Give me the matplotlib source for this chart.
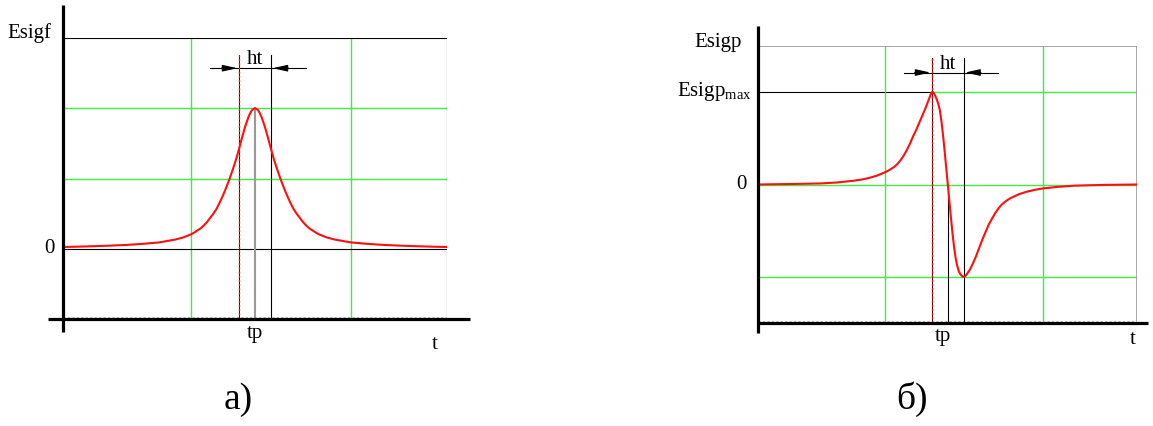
import matplotlib
matplotlib.use("Agg")
import matplotlib.pyplot as plt

# ---------------- data ----------------
# panel a): Esigf(t) pulse
t_f = [0.0, 0.5, 1.0, 1.5, 2.0, 2.5, 3.0, 3.25, 3.5, 3.75, 4.0, 4.1, 4.2, 4.3, 4.4,
       4.5, 4.6, 4.7, 4.8, 4.9, 5.0, 5.1, 5.2, 5.3, 5.4, 5.5, 5.6, 5.7, 5.8, 5.85,
       5.9, 5.95, 6.0, 6.05, 6.1, 6.15, 6.2, 6.3, 6.4, 6.5, 6.6, 6.7, 6.8, 6.9, 7.0,
       7.1, 7.2, 7.3, 7.4, 7.5, 7.6, 7.7, 7.8, 7.9, 8.0, 8.25, 8.5, 8.75, 9.0, 9.5,
       10.0, 10.5, 11.0, 11.5, 12.0]
esigf = [0.025, 0.03, 0.037, 0.045, 0.055, 0.07, 0.09, 0.11, 0.13, 0.16, 0.205,
         0.23, 0.26, 0.29, 0.33, 0.38, 0.44, 0.50, 0.57, 0.66, 0.76, 0.87, 0.99, 1.12,
         1.26, 1.42, 1.59, 1.75, 1.88, 1.93, 1.97, 1.99, 2.00, 1.99, 1.97, 1.93, 1.88,
         1.75, 1.59, 1.42, 1.26, 1.12, 0.99, 0.87, 0.76, 0.66, 0.57, 0.50, 0.44, 0.38,
         0.33, 0.29, 0.26, 0.23, 0.205, 0.16, 0.13, 0.11, 0.09, 0.07, 0.055, 0.045,
         0.037, 0.03, 0.025]

# panel б): Esigp(t)
t_p = [0.0, 0.5, 1.0, 1.5, 2.0, 2.5, 3.0, 3.25, 3.5, 3.75, 4.0, 4.1, 4.2, 4.3, 4.4,
       4.5, 4.6, 4.7, 4.8, 4.9, 5.0, 5.1, 5.2, 5.3, 5.35, 5.4, 5.45, 5.5, 5.53, 5.56,
       5.6, 5.65, 5.7, 5.75, 5.8, 5.85, 5.9, 5.95, 6.0, 6.05, 6.1, 6.15, 6.2, 6.25,
       6.3, 6.35, 6.4, 6.45, 6.5, 6.55, 6.6, 6.7, 6.8, 6.9, 7.0, 7.1, 7.2, 7.3, 7.4,
       7.5, 7.6, 7.7, 7.8, 7.9, 8.0, 8.25, 8.5, 8.75, 9.0, 9.5, 10.0, 10.5, 11.0,
       11.5, 12.0]
esigp = [0.0, 0.003, 0.005, 0.008, 0.012, 0.022, 0.04, 0.052, 0.07, 0.095, 0.13,
         0.147, 0.167, 0.19, 0.22, 0.26, 0.31, 0.37, 0.44, 0.52, 0.59, 0.67, 0.75,
         0.83, 0.875, 0.92, 0.965, 1.0, 1.0, 0.985, 0.96, 0.92, 0.87, 0.80, 0.68, 0.53,
         0.36, 0.18, 0.0, -0.18, -0.36, -0.53, -0.68, -0.80, -0.88, -0.94, -0.97,
         -0.99, -1.0, -0.99, -0.97, -0.92, -0.85, -0.77, -0.68, -0.59, -0.51, -0.43,
         -0.37, -0.31, -0.26, -0.22, -0.19, -0.165, -0.145, -0.105, -0.078, -0.058,
         -0.043, -0.025, -0.013, -0.008, -0.004, -0.002, 0.0]

grid_t = [4.0, 9.0]          # green vertical grid lines
t_start = 5.5                # left edge of ht (dashed red line)
t_peak = 6.0                 # tp
t_end = 6.5                  # right edge of ht
esigf_grid = [1.0, 2.0]
esigp_grid = [1.0, 0.0, -1.0]

# ---------------- figure ----------------
W, H = 1153, 426
fig = plt.figure(figsize=(W / 100, H / 100), dpi=100)
fig.patch.set_facecolor("white")

SERIF = ["Liberation Serif", "DejaVu Serif"]
plt.rcParams["mathtext.fontset"] = "custom"
plt.rcParams["mathtext.rm"] = "Liberation Serif"

GREEN = "#3fec3f"
RED = "#ff1010"
THIN = 0.8
FS = 15


def ax_at(px0, px1, py0, py1):
    ax = fig.add_axes([px0 / W, 1 - py1 / H, (px1 - px0) / W, (py1 - py0) / H])
    ax.set_axis_off()
    return ax


def ht_marker(ax, y, xl, xr, span_l, span_r, ytxt):
    ax.plot([span_l, span_r], [y, y], color="black", lw=THIN, clip_on=False)
    ax.annotate("", xy=(xl - 0.05, y), xytext=(xl - 0.55, y),
                arrowprops=dict(arrowstyle="-|>,head_length=0.9,head_width=0.2",
                                color="black", lw=THIN, shrinkA=0, shrinkB=0),
                annotation_clip=False)
    ax.annotate("", xy=(xr + 0.05, y), xytext=(xr + 0.55, y),
                arrowprops=dict(arrowstyle="-|>,head_length=0.9,head_width=0.2",
                                color="black", lw=THIN, shrinkA=0, shrinkB=0),
                annotation_clip=False)
    ax.text((xl + xr) / 2, ytxt, "ht", family=SERIF, fontsize=FS,
            ha="center", va="baseline")


# ======================= panel a) =======================
axL = ax_at(63, 447, 38, 319)
axL.set_xlim(0, 12)
axL.set_ylim(-1, 3)

for yv in esigf_grid:
    axL.axhline(yv, color=GREEN, lw=1.0, zorder=1)
for tv in grid_t:
    axL.axvline(tv, color=GREEN, lw=1.0, zorder=1)
axL.axhline(3, color="black", lw=THIN, zorder=1)
axL.axhline(0, color="black", lw=THIN, zorder=1)
axL.axvline(12, color="black", lw=THIN, zorder=1)
axL.axhline(-0.975, color="#bbbbbb", lw=0.8, ls=(0, (2, 2)), zorder=1)

# vertical markers
axL.plot([t_start, t_start], [-1, 2.76], color="#3a0000", lw=0.7, zorder=3)
axL.plot([t_start, t_start], [-1, 2.76], color=RED, lw=1.0, ls=(0, (1.5, 1.5)), zorder=3)
axL.plot([t_peak, t_peak], [-1, 2.0], color="#999999", lw=1.5, zorder=3)
axL.plot([t_end, t_end], [-1, 2.76], color="black", lw=THIN, zorder=3)

axL.plot(t_f, esigf, color=RED, lw=1.5, zorder=4)

# thick axes
axL.plot([0, 0], [-1.19, 3.47], color="black", lw=2.3, clip_on=False, zorder=5,
         solid_capstyle="butt")
axL.plot([-0.47, 12.72], [-1, -1], color="black", lw=2.3, clip_on=False, zorder=5,
         solid_capstyle="butt")

ht_marker(axL, 2.57, t_start, t_end, 4.59, 7.58, 2.63)

axL.text(-1.06, 3.07, "Esigf", family=SERIF, fontsize=FS, ha="center", va="center")
axL.text(-0.42, 0.0, "0", family=SERIF, fontsize=FS, ha="center", va="center")
axL.text(t_peak, -1.2, "tp", family=SERIF, fontsize=FS, ha="center", va="center")
axL.text(11.63, -1.37, "t", family=SERIF, fontsize=FS, ha="center", va="center")
axL.text(5.47, -2.15, "а)", family=SERIF, fontsize=27, ha="center", va="center")

# ======================= panel б) =======================
axR = ax_at(758.3, 1137.3, 45.7, 323.3)
axR.set_xlim(0, 12)
axR.set_ylim(-1.5, 1.5)

for yv in esigp_grid:
    if yv == 1.0:
        axR.plot([t_start, 12], [yv, yv], color=GREEN, lw=1.0, zorder=1)
        axR.plot([0, t_start], [yv, yv], color="black", lw=THIN, zorder=1)
    else:
        axR.axhline(yv, color=GREEN, lw=1.0, zorder=1)
for tv in grid_t:
    axR.axvline(tv, color=GREEN, lw=1.0, zorder=1)
axR.axhline(1.5, color="#999999", lw=1.2, zorder=1)
axR.axvline(12, color="#999999", lw=1.2, zorder=1)
axR.axhline(-1.48, color="#bbbbbb", lw=0.8, ls=(0, (2, 2)), zorder=1)

axR.plot([t_start, t_start], [-1.5, 1.37], color="#3a0000", lw=0.7, zorder=3)
axR.plot([t_start, t_start], [-1.5, 1.37], color=RED, lw=1.0, ls=(0, (1.5, 1.5)), zorder=3)
axR.plot([t_peak, t_peak], [-1.5, 0.0], color="black", lw=THIN, zorder=3)
axR.plot([t_end, t_end], [-1.5, 1.37], color="black", lw=THIN, zorder=3)

axR.plot(t_p, esigp, color=RED, lw=1.5, zorder=4)

axR.plot([0, 0], [-1.61, 1.71], color="black", lw=2.3, clip_on=False, zorder=5,
         solid_capstyle="butt")
axR.plot([-0.04, 12.33], [-1.5, -1.5], color="black", lw=2.3, clip_on=False, zorder=5,
         solid_capstyle="butt")

ht_marker(axR, 1.21, t_start, t_end, 4.62, 7.58, 1.25)

axR.text(-1.28, 1.53, "Esigp", family=SERIF, fontsize=FS, ha="center", va="center")
axR.text(-0.2, 1.0, r"$\mathrm{Esigp}_{\mathrm{max}}$", fontsize=FS, ha="right",
         va="center")
axR.text(-0.52, 0.0, "0", family=SERIF, fontsize=FS, ha="center", va="center")
axR.text(5.85, -1.64, "tp", family=SERIF, fontsize=FS, ha="center", va="center")
axR.text(11.85, -1.67, "t", family=SERIF, fontsize=FS, ha="center", va="center")
axR.text(4.86, -2.32, "б)", family=SERIF, fontsize=27, ha="center", va="center")

fig.savefig("out.png", dpi=100, facecolor="white")
